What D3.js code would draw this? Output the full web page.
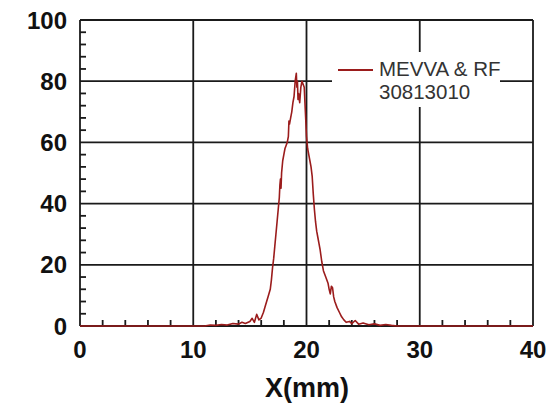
<!DOCTYPE html>
<html>
<head>
<meta charset="utf-8">
<script src="https://cdn.jsdelivr.net/npm/d3@7"></script>
<style>
  body { margin: 0; background: #fff; }
  svg { display: block; font-family: "Liberation Sans", Arial, sans-serif; }
</style>
</head>
<body>
<div id="chart"></div>
<script>
// profile: position (mm) and intensity
const xMm = [0, 2, 4, 6, 8, 10, 11, 11.5, 12, 12.5, 13, 13.5, 14, 14.3, 14.6, 15, 15.2, 15.4, 15.6, 15.8,
    16.0, 16.2, 16.4, 16.6, 16.8, 16.9, 17.0, 17.1, 17.2, 17.3, 17.4, 17.5, 17.6, 17.65, 17.7, 17.75, 17.8, 17.9,
    18.0, 18.1, 18.2, 18.3, 18.4, 18.45, 18.5, 18.6, 18.7, 18.8, 18.9, 19.0, 19.1, 19.15, 19.2, 19.25, 19.3, 19.4,
    19.5, 19.6, 19.7, 19.8, 19.9, 20.0, 20.1, 20.2, 20.3, 20.4, 20.5, 20.6, 20.7, 20.8, 20.9, 21.0, 21.1, 21.2,
    21.35, 21.5, 21.7, 21.9, 22.0, 22.1, 22.2, 22.3, 22.4, 22.5, 22.7, 22.9, 23.1, 23.3, 23.5, 23.8, 24.0, 24.3,
    24.6, 25, 25.5, 26, 26.5, 27, 27.5, 28, 30, 40];
const intensity = [0, 0, 0, 0, 0, 0, 0, 0.3, 0.2, 0.5, 0.3, 0.8, 0.6, 1.2, 0.8, 1.5, 2.5, 1.2, 3.8, 2.0,
    2.6, 4.5, 7, 9.5, 12, 15, 19, 22, 26, 30, 34, 38, 42, 46, 48, 45, 50, 54,
    56, 58, 59, 60, 62, 67, 66, 68, 70, 73, 75, 80, 82.6, 78, 80, 74, 76, 73,
    78, 80, 79, 78, 70, 62, 58, 56, 54, 52, 49, 43, 38, 34, 31, 29, 27, 25,
    21, 18, 16, 14, 12, 10.5, 13, 12.5, 9.5, 8, 6, 4.5, 3, 2, 1.2, 1.5, 0.8, 1.8,
    0.6, 1, 0.4, 0.7, 0.2, 0.5, 0.2, 0, 0, 0];
const xTicks = [0, 10, 20, 30, 40];
const yTicks = [0, 20, 40, 60, 80, 100];
const legendLines = ["MEVVA & RF", "30813010"];

const width = 559, height = 410;
const margin = { top: 20, right: 26, bottom: 84, left: 80 };
const innerW = width - margin.left - margin.right;
const innerH = height - margin.top - margin.bottom;

const svg = d3.select("#chart").append("svg")
    .attr("width", width)
    .attr("height", height);

const chart = svg.append("g")
    .attr("transform", `translate(${margin.left},${margin.top})`);

const xScale = d3.scaleLinear().domain([0, 40]).range([0, innerW]);
const yScale = d3.scaleLinear().domain([0, 100]).range([innerH, 0]);

// major grid
chart.append("g").selectAll("line").data(xTicks).join("line")
    .attr("x1", d => xScale(d)).attr("x2", d => xScale(d))
    .attr("y1", 0).attr("y2", innerH)
    .attr("stroke", "#1a1a1a").attr("stroke-width", 1.8);
chart.append("g").selectAll("line").data(yTicks).join("line")
    .attr("x1", 0).attr("x2", innerW)
    .attr("y1", d => yScale(d)).attr("y2", d => yScale(d))
    .attr("stroke", "#1a1a1a").attr("stroke-width", 1.8);

// minor ticks (inside)
const xMinor = d3.range(0, 40.001, 2).filter(d => d % 10 !== 0);
const yMinor = d3.range(0, 100.001, 4).filter(d => d % 20 !== 0);
chart.append("g").selectAll("line").data(xMinor).join("line")
    .attr("x1", d => xScale(d)).attr("x2", d => xScale(d))
    .attr("y1", innerH).attr("y2", innerH - 6)
    .attr("stroke", "#1a1a1a").attr("stroke-width", 1.8);
chart.append("g").selectAll("line").data(yMinor).join("line")
    .attr("x1", 0).attr("x2", 6)
    .attr("y1", d => yScale(d)).attr("y2", d => yScale(d))
    .attr("stroke", "#1a1a1a").attr("stroke-width", 1.8);

// tick labels
chart.append("g").selectAll("text").data(xTicks).join("text")
    .attr("x", d => xScale(d))
    .attr("y", innerH + 32)
    .attr("text-anchor", "middle")
    .attr("font-size", 24).attr("font-weight", "bold").attr("fill", "#111")
    .text(d => d);
chart.append("g").selectAll("text").data(yTicks).join("text")
    .attr("x", -13)
    .attr("y", d => yScale(d) + 8.5)
    .attr("text-anchor", "end")
    .attr("font-size", 24).attr("font-weight", "bold").attr("fill", "#111")
    .text(d => d);

svg.append("text")
    .attr("x", 307)
    .attr("y", 397)
    .attr("text-anchor", "middle")
    .attr("font-size", 27).attr("font-weight", "bold").attr("fill", "#111")
    .text("X(mm)");

// legend box hides the grid behind it
svg.append("rect")
    .attr("x", 332).attr("y", 52)
    .attr("width", 168).attr("height", 55)
    .attr("fill", "#fff");
svg.append("line")
    .attr("x1", 338).attr("x2", 373)
    .attr("y1", 70).attr("y2", 70)
    .attr("stroke", "#9b1c1c").attr("stroke-width", 2);
svg.append("g").selectAll("text").data(legendLines).join("text")
    .attr("x", 379)
    .attr("y", (d, i) => 76 + i * 23)
    .attr("font-size", 20.5).attr("fill", "#333")
    .text(d => d);

// profile
const line = d3.line()
    .x((d, i) => xScale(xMm[i]))
    .y(d => yScale(d));
chart.append("path")
    .datum(intensity)
    .attr("d", line)
    .attr("fill", "none")
    .attr("stroke", "#9b1c1c")
    .attr("stroke-width", 1.6)
    .attr("stroke-linejoin", "round");
</script>
</body>
</html>
